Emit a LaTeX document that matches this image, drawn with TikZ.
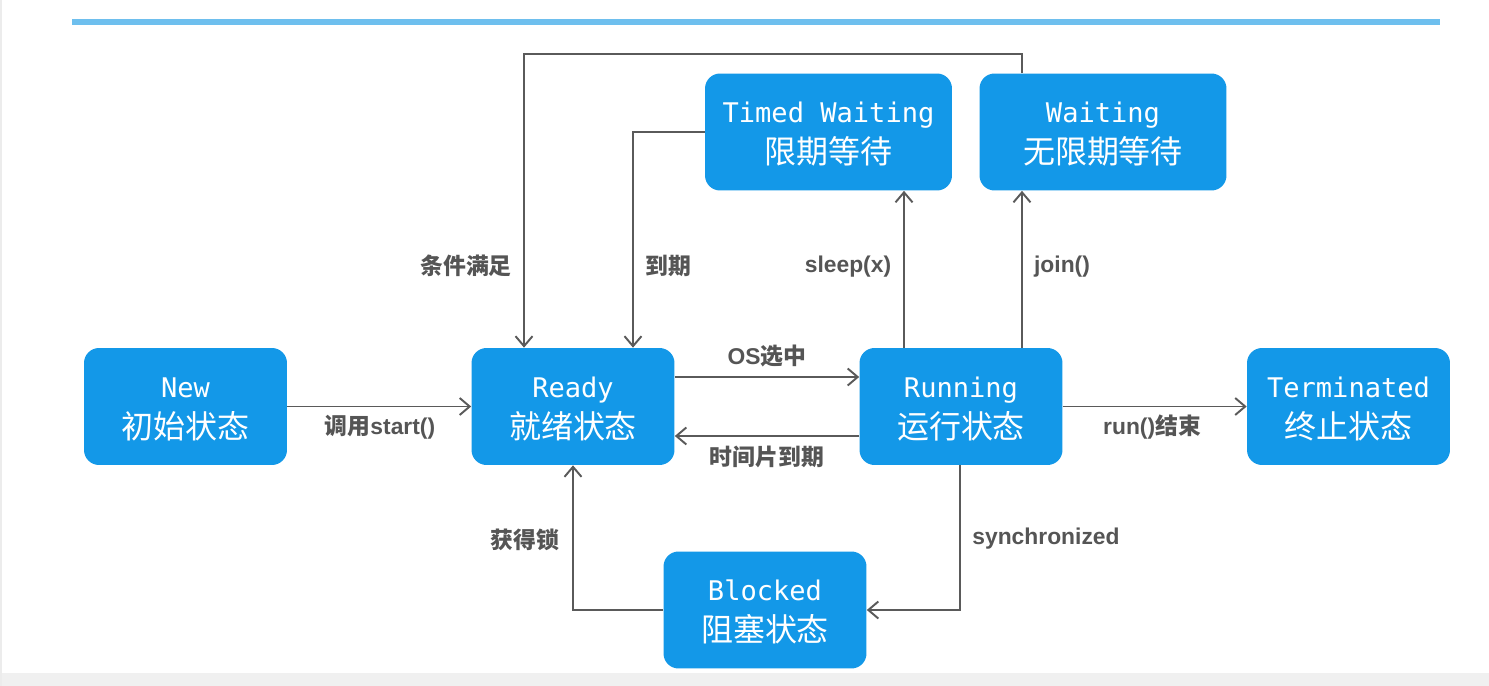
\documentclass[tikz,border=0pt]{standalone}
\usepackage{fontspec}
\usetikzlibrary{arrows.meta,calc}
\newfontfamily\cjk{Noto Sans CJK SC}
\newfontfamily\mono{DejaVu Sans Mono}
\newfontfamily\lab{Liberation Sans}
\definecolor{boxblue}{HTML}{1398E8}
\definecolor{linegray}{HTML}{5A5A5A}
\definecolor{textgray}{HTML}{555555}
\definecolor{topline}{HTML}{6EBFEE}
\newcommand{\lat}[1]{{\mono\fontsize{15.4}{23.4}\selectfont\rule{0pt}{14.4pt}#1}}
\newcommand{\zh}[1]{{\cjk\fontsize{18.2}{23.4}\selectfont #1}}
\newcommand{\zhlab}[1]{{\cjk\bfseries #1}}
\newcommand{\enlab}[1]{{\lab\bfseries #1}}
\tikzset{
  state/.style={fill=boxblue, rounded corners=0.3cm, text=white, align=center,
    minimum width=4.06cm, minimum height=2.34cm, inner sep=0pt,
    font=\fontsize{18.2}{23.4}\selectfont},
  arr/.style={draw=linegray, line width=1.1pt,
    -{Straight Barb[length=2mm,width=3.4mm,line width=1.1pt]}},
  lbl/.style={text=textgray, font=\fontsize{13}{15}\selectfont, inner sep=0pt}
}
\begin{document}
\begin{tikzpicture}[x=0.02cm,y=-0.02cm]
\useasboundingbox (0,0) rectangle (1489,686);
\fill[white] (0,0) rectangle (1489,686);
\fill[gray!12] (0,673) rectangle (1489,686);
\fill[gray!15] (0,0) rectangle (2,686);
\fill[topline] (72,19.5) rectangle (1440,25);

\node[state] (new) at (185.5,406.5) {\lat{New}\\\zh{初始状态}};
\node[state] (ready) at (573,406.5) {\lat{Ready}\\\zh{就绪状态}};
\node[state] (run) at (961,406.5) {\lat{Running}\\\zh{运行状态}};
\node[state] (term) at (1348.5,406.5) {\lat{Terminated}\\\zh{终止状态}};
\node[state, minimum width=4.94cm] (timed) at (828.5,132) {\lat{Timed Waiting}\\\zh{限期等待}};
\node[state, minimum width=4.94cm] (wait) at (1103,132) {\lat{Waiting}\\\zh{无限期等待}};
\node[state] (block) at (765,610) {\lat{Blocked}\\\zh{阻塞状态}};

% horizontal transitions
\draw[arr] (new.east) -- (ready.west);
\draw[arr] ([yshift=0.59cm]ready.east) -- ([yshift=0.59cm]run.west);
\draw[arr] ([yshift=-0.59cm]run.west) -- ([yshift=-0.59cm]ready.east);
\draw[arr] (run.east) -- (term.west);

% up to waiting states
\draw[arr] ([xshift=-1.14cm]run.north) -- ([xshift=-1.14cm]run.north |- timed.south);
\draw[arr] ([xshift=1.22cm]run.north) -- ([xshift=1.22cm]run.north |- wait.south);

% back to ready
\coordinate (wtop) at ($([xshift=-1.62cm]wait.north)+(0,-19)$);
\coordinate (rtopl) at ([xshift=-0.98cm]ready.north);
\draw[arr] ([xshift=-1.62cm]wait.north) -- (wtop) -- (rtopl |- wtop) -- (rtopl);
\coordinate (rtopr) at ([xshift=1.2cm]ready.north);
\draw[arr] (timed.west) -- (rtopr |- timed.west) -- (rtopr);

% blocked
\draw[arr] ([xshift=-0.02cm]run.south) |- (block.east);
\draw[arr] (block.west) -| (ready.south);

% labels
\node[lbl] (l1) at (380,427) {\zhlab{调用}\enlab{start()}};
\node[lbl] (l2) at (767,356) {\enlab{OS}\zhlab{选中}};
\node[lbl] (l3) at (767,457) {\zhlab{时间片到期}};
\node[lbl] (l4) at (1152,427) {\enlab{run()}\zhlab{结束}};
\node[lbl] (l5) at (466,266) {\zhlab{条件满足}};
\node[lbl] (l6) at (668,266) {\zhlab{到期}};
\node[lbl] (l7) at (848,267) {\enlab{sleep(x)}};
\node[lbl] (l8) at (1062,267) {\enlab{join()}};
\node[lbl] (l9) at (1046,539) {\enlab{synchronized}};
\node[lbl] (l10) at (525,540) {\zhlab{获得锁}};
\end{tikzpicture}
\end{document}
